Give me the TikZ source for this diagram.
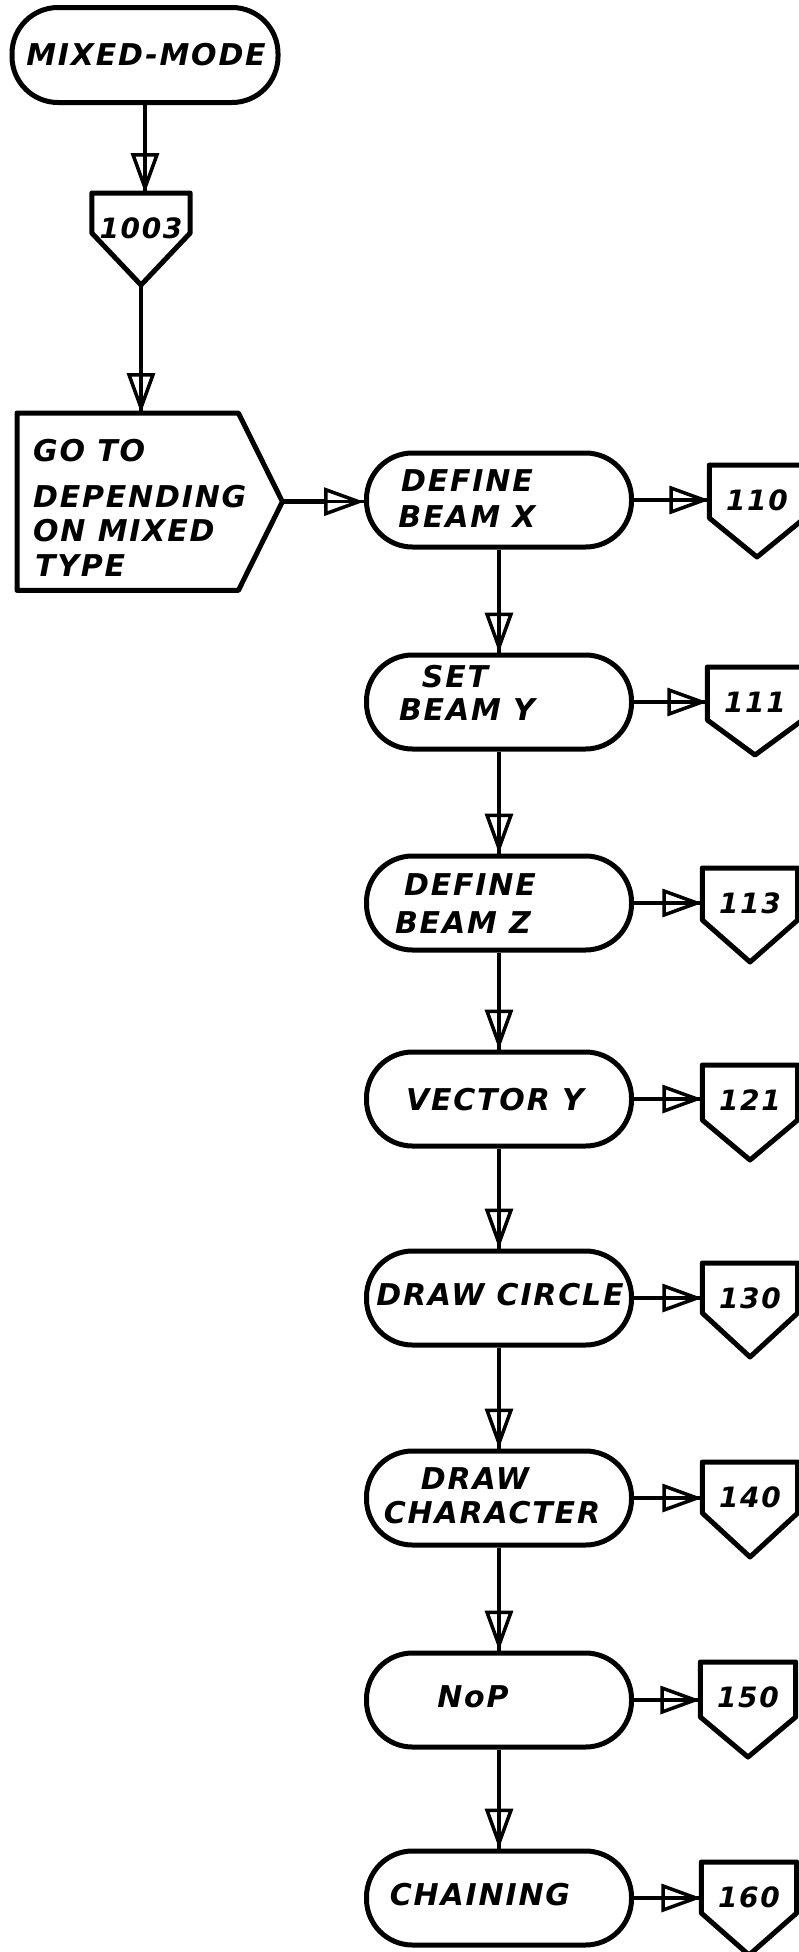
\documentclass[tikz,border=0pt]{standalone}
\usepackage{fontspec}
\newfontfamily\handfont{DejaVu Sans}[BoldItalicFont={DejaVu Sans Bold Oblique}, LetterSpace=6]
\usetikzlibrary{arrows.meta,calc}
\tikzset{
 x=1pt,y=-1pt,
 outline/.style={draw, line width=5pt, line join=round},
 term/.style={outline, rectangle, rounded corners=46pt, minimum width=265pt, minimum height=94pt, inner sep=0pt},
 conbox/.style={minimum height=70pt, inner sep=0pt, font=\handfont\bfseries\itshape\fontsize{28}{30}\selectfont},
 hand/.style={inner sep=0pt, font=\handfont\bfseries\itshape\fontsize{30}{36}\selectfont},
 flow/.style={line width=4.5pt, -{Triangle[open, length=40pt, width=28pt, line width=3.5pt]}, postaction={draw, line width=3.5pt, arrows=-}},
}
\newcommand\conn[7]{%
 \node[conbox, minimum width=#4, anchor=north] (#1) at (#2,#3) {#7};
 \draw[outline] (#1.north west) -- (#1.north east) -- ([yshift=-#5]#1.north east) -- ([yshift=-#6]#1.north) -- ([yshift=-#5]#1.north west) -- cycle;}
\begin{document}
\begin{tikzpicture}
\fill[white] (0,0) rectangle (799,1952);
\useasboundingbox (0,0) rectangle (799,1952);
\clip (0,0) rectangle (799,1952);

% terminals
\node[term, minimum width=266pt, minimum height=95pt] (mm) at (145,55) {};
\node[term] (dbx) at (499,500) {};
\node[term] (sby) at (499,702) {};
\node[term] (dbz) at (499,903) {};
\node[term] (vy) at (499,1099) {};
\node[term] (dc) at (499,1298) {};
\node[term] (dch) at (499,1498) {};
\node[term] (nop) at (499,1700) {};
\node[term] (ch) at (499,1898) {};

% terminal texts
\node[hand] (tmm) at (146,55) {MIXED-MODE};
\node[hand] (tdbx1) at (467,481) {DEFINE};
\node[hand] (tdbx2) at (467,517) {BEAM X};
\node[hand] (tsby1) at (455,677) {SET};
\node[hand] (tsby2) at (467,710) {BEAM Y};
\node[hand] (tdbz1) at (470,885) {DEFINE};
\node[hand] (tdbz2) at (463,923) {BEAM Z};
\node[hand] (tvy) at (495,1100) {VECTOR Y};
\node[hand] (tdc) at (500,1295) {DRAW CIRCLE};
\node[hand] (tdch1) at (475,1479) {DRAW};
\node[hand] (tdch2) at (492,1513) {CHARACTER};
\node[hand] (tnop) at (473,1697) {NoP};
\node[hand] (tch) at (480,1895) {CHAINING};

% go to box
\node[minimum width=221pt, minimum height=177pt, inner sep=0pt, anchor=north west] (goto) at (17,413) {};
\coordinate (gotip) at ([xshift=44pt]goto.east);
\draw[outline] (goto.north west) -- (goto.north east) -- (gotip) -- (goto.south east) -- (goto.south west) -- cycle;
\node[hand, anchor=west] (g1) at (33,451) {GO TO};
\node[hand, anchor=west] (g2) at (33,497) {DEPENDING};
\node[hand, anchor=west] (g3) at (33,531) {ON MIXED};
\node[hand, anchor=west] (g4) at (35,566) {TYPE};

% connectors
\conn{c1003}{141}{193}{98pt}{40pt}{92pt}{1003}
\conn{c110}{757}{465}{95pt}{53pt}{92pt}{110}
\conn{c111}{755}{667}{95pt}{53pt}{88pt}{111}
\conn{c113}{750}{868}{95pt}{52pt}{94pt}{113}
\conn{c121}{750}{1065}{95pt}{55pt}{95pt}{121}
\conn{c130}{750}{1263}{95pt}{50pt}{94pt}{130}
\conn{c140}{750}{1462}{95pt}{51pt}{95pt}{140}
\conn{c150}{748}{1662}{95pt}{55pt}{95pt}{150}
\conn{c160}{749}{1862}{95pt}{51pt}{93pt}{160}
\coordinate (tip1003) at ([yshift=-92pt]c1003.north);

% flows
\draw[flow] (mm.south) -- (mm.south |- c1003.north);
\draw[flow] (tip1003) -- (tip1003 |- goto.north);
\draw[flow] (gotip) -- (gotip -| dbx.west);
\draw[flow] (dbx.east) -- (dbx.east -| c110.west);
\draw[flow] (sby.east) -- (sby.east -| c111.west);
\draw[flow] (dbz.east) -- (dbz.east -| c113.west);
\draw[flow] (vy.east) -- (vy.east -| c121.west);
\draw[flow] (dc.east) -- (dc.east -| c130.west);
\draw[flow] (dch.east) -- (dch.east -| c140.west);
\draw[flow] (nop.east) -- (nop.east -| c150.west);
\draw[flow] (ch.east) -- (ch.east -| c160.west);
\draw[flow] (dbx.south) -- (sby.north);
\draw[flow] (sby.south) -- (dbz.north);
\draw[flow] (dbz.south) -- (vy.north);
\draw[flow] (vy.south) -- (dc.north);
\draw[flow] (dc.south) -- (dch.north);
\draw[flow] (dch.south) -- (nop.north);
\draw[flow] (nop.south) -- (ch.north);
\end{tikzpicture}
\end{document}
